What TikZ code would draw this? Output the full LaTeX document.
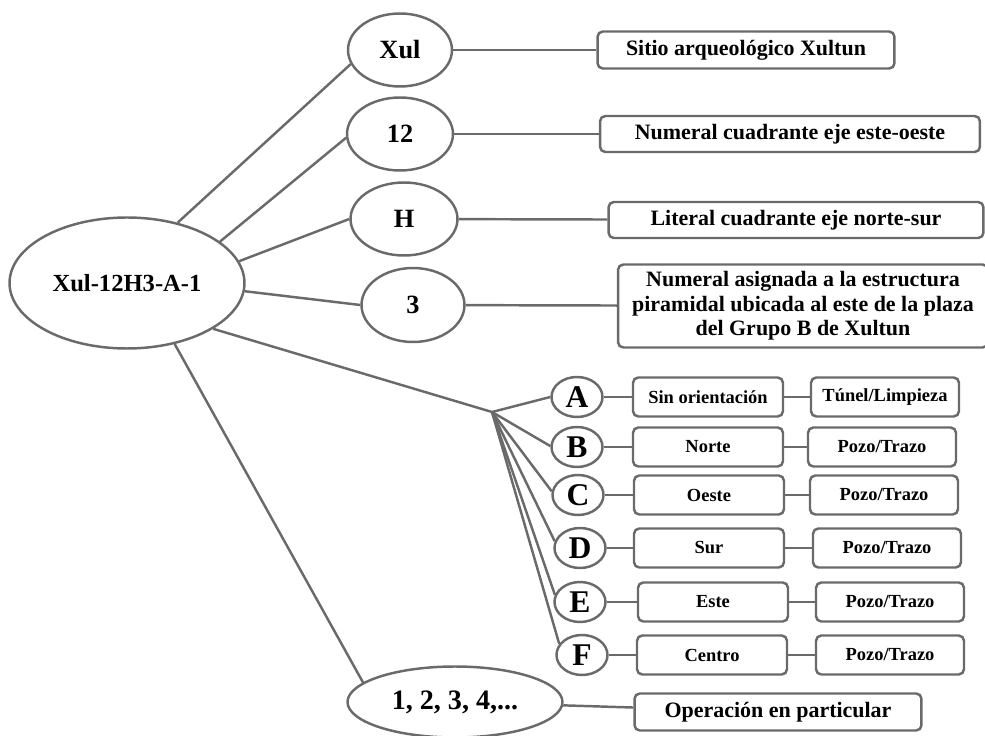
\documentclass[tikz,border=0pt]{standalone}
\usepackage{fontspec}
\setmainfont{Liberation Serif}
\usetikzlibrary{shapes.geometric}
\definecolor{lineg}{HTML}{6A6A6A}

\begin{document}
\begin{tikzpicture}[
  x=0.02cm, y=-0.02cm,
  elip/.style={
    ellipse, draw=lineg, line width=1.4pt, inner sep=0pt,
    font=\bfseries\fontsize{15}{17}\selectfont
  },
  caja/.style={
    draw=lineg, rounded corners=3pt, line width=1.4pt, inner sep=0pt,
    font=\bfseries\fontsize{12.5}{14}\selectfont
  },
  cajita/.style={
    caja, minimum height=0.78cm,
    font=\bfseries\fontsize{10.5}{12}\selectfont
  },
  link/.style={draw=lineg, line width=1.4pt}
]
  \useasboundingbox (0,0) rectangle (985,736);
  % main code
  \node[elip, minimum width=4.7cm, minimum height=2.62cm,
    font=\bfseries\fontsize{14}{16}\selectfont] (root) at (127,283){Xul-12H3-A-1};
  % parts of the code
  \node[elip, minimum width=2.08cm, minimum height=1.46cm] (xul) at (400,50){Xul};
  \node[elip, minimum width=2.12cm, minimum height=1.46cm] (n12) at (400,134){12};
  \node[elip, minimum width=2.14cm, minimum height=1.46cm] (h) at (404,219){H};
  \node[elip, minimum width=2.06cm, minimum height=1.48cm] (n3) at (413,305){3};
  \node[elip, minimum width=4.3cm, minimum height=1.42cm,
    font=\bfseries\fontsize{16}{18}\selectfont] (op) at (455,702){1, 2, 3, 4,...};
  \node[caja, minimum width=5.94cm, minimum height=0.74cm] (sitio) at (746,50){Sitio arqueológico Xultun};
  \node[caja, minimum width=7.6cm, minimum height=0.72cm] (numeral) at (790,134){Numeral cuadrante eje este-oeste};
  \node[caja, minimum width=7.5cm, minimum height=0.72cm] (literal) at (796,220){Literal cuadrante eje norte-sur};
  \node[caja, minimum width=7.4cm, minimum height=1.66cm, align=center] (estruc) at (803,306)
    {Numeral asignada a la estructura\\piramidal ubicada al este de la plaza\\del Grupo B de Xultun};
  \node[caja, minimum width=5.74cm, minimum height=0.74cm] (opdesc) at (778,712){Operación en particular};
  \coordinate (j) at (492,412);
  \draw[link] (root.50)--(xul.196);
  \draw[link] (root.24)--(n12.184);
  \draw[link] (root.11)--(h.west);
  \draw[link] (root.-4)--(n3.west);
  \draw[link] (root.-28)--(j);
  \draw[link] (root.-52)--(op.168);
  \draw[link] (xul)--(sitio);
  \draw[link] (n12)--(numeral);
  \draw[link] (h)--(literal);
  \draw[link] (n3)--(estruc);
  \draw[link] (op)--(opdesc);
  % suboperations
  \foreach \l/\lx/\y/\a/\mx/\m/\rx/\r in {
    A/577/397/180/708/Sin orientación/885/{Túnel/Limpieza},
    B/577/447/178/708/Norte/882/{Pozo/Trazo},
    C/578/495/172/709/Oeste/884/{Pozo/Trazo},
    D/580/548/165/709/Sur/887/{Pozo/Trazo},
    E/580/602/164/713/Este/890/{Pozo/Trazo},
    F/582/655/154/712/Centro/890/{Pozo/Trazo}} {
    \node[elip, minimum width=1.02cm, minimum height=0.8cm,
      font=\bfseries\fontsize{18}{20}\selectfont] (let\l) at (\lx,\y){\l};
    \node[cajita, minimum width=3.0cm] (ori\l) at (\mx,\y){\m};
    \node[cajita, minimum width=2.96cm] (tip\l) at (\rx,\y){\r};
    \draw[link] (j)--(let\l.\a);
    \draw[link] (let\l)--(ori\l)--(tip\l);
  }
\end{tikzpicture}
\end{document}
